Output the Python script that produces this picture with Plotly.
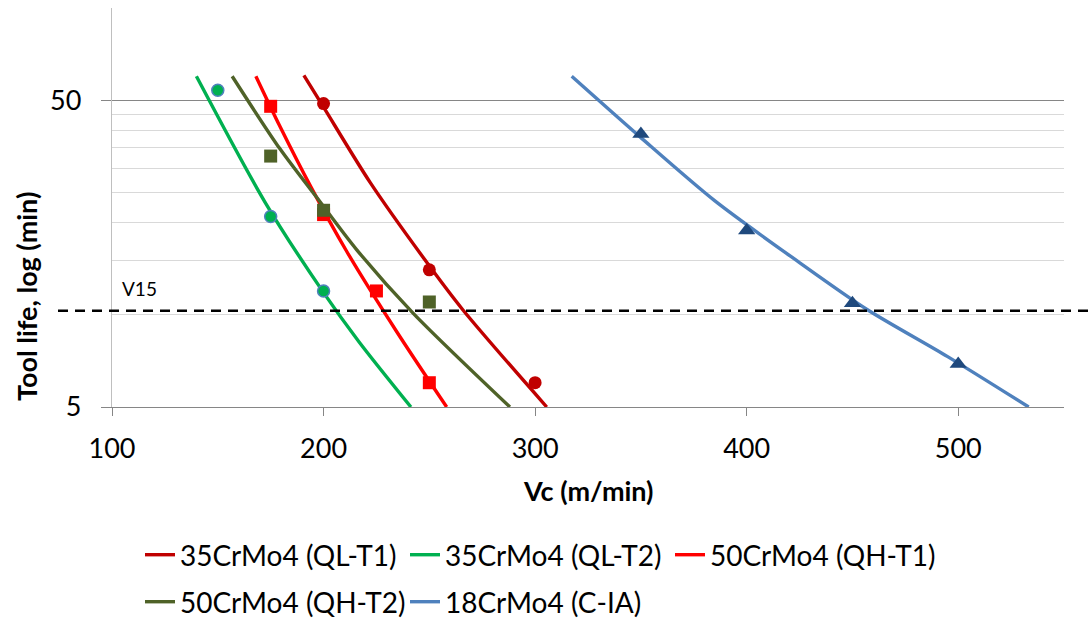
import math
import plotly.graph_objects as go

# ---------------- data ----------------
series_names = ["35CrMo4 (QL-T1)", "35CrMo4 (QL-T2)", "50CrMo4 (QH-T1)",
                "50CrMo4 (QH-T2)", "18CrMo4 (C-IA)"]

# measured points (Vc in m/min, tool life in min)
ql_t1_vc = [200, 250, 300]
ql_t1_life = [48.8, 14.0, 6.0]
ql_t2_vc = [150, 175, 200]
ql_t2_life = [53.9, 20.9, 11.95]
qh_t1_vc = [175, 200, 225, 250]
qh_t1_life = [47.8, 21.2, 11.95, 6.0]
qh_t2_vc = [175, 200, 250]
qh_t2_life = [32.9, 21.9, 11.0]
cia_vc = [350, 400, 450, 500]
cia_life = [38.8, 18.8, 10.9, 6.9]

# trend curves
ql_t1_fit_vc = [190.7, 200, 222, 247.9, 265.7, 305.5]
ql_t1_fit_life = [60.3, 47.5, 27.0, 15.1, 10.4, 5.0]
ql_t2_fit_vc = [139.9, 172.3, 200, 216.8, 241.3]
ql_t2_fit_life = [59.9, 23.3, 11.8, 8.15, 5.0]
qh_t1_fit_vc = [168.0, 179.3, 194, 210.9, 234.6, 258.2]
qh_t1_fit_life = [59.9, 41.2, 26.1, 16.1, 8.8, 5.0]
qh_t2_fit_vc = [156.8, 179.3, 197, 215.6, 242.4, 288.1]
qh_t2_fit_life = [59.9, 34.8, 24.0, 16.3, 10.1, 5.0]
cia_fit_vc = [317.3, 349.6, 385, 423.7, 456.9, 495, 533.3]
cia_fit_life = [59.9, 38.0, 23.5, 15.0, 10.4, 7.3, 5.0]

v15_life = 10.3
v15_label = "V15"

x_ticks = [100, 200, 300, 400, 500]
y_ticks = [5, 50]
y_minor = [10, 15, 20, 25, 30, 35, 40, 45, 100]

x_title = "Vc (m/min)"
y_title = "Tool life, log (min)"

# ---------------- style ----------------
FONT = "Lato"
line_colors = ["#C00000", "#00B050", "#FF0000", "#4F6228", "#4F81BD"]

fits = [(ql_t1_fit_vc, ql_t1_fit_life), (ql_t2_fit_vc, ql_t2_fit_life),
        (qh_t1_fit_vc, qh_t1_fit_life), (qh_t2_fit_vc, qh_t2_fit_life),
        (cia_fit_vc, cia_fit_life)]
points = [(ql_t1_vc, ql_t1_life), (ql_t2_vc, ql_t2_life), (qh_t1_vc, qh_t1_life),
          (qh_t2_vc, qh_t2_life), (cia_vc, cia_life)]
marker_styles = [
    dict(symbol="circle", size=13, color="#C00000"),
    dict(symbol="circle", size=12, color="#00B050", line=dict(color="#4F81BD", width=1.5)),
    dict(symbol="square", size=13, color="#FF0000"),
    dict(symbol="square", size=13, color="#4F6228"),
    dict(symbol="triangle-up", size=15, color="#1F497D"),
]
legend_ids = ["legend", "legend2", "legend3", "legend4", "legend5"]

fig = go.Figure()
for i, (vx, vy) in enumerate(fits):
    fig.add_trace(go.Scatter(
        x=vx, y=vy, mode="lines", name=series_names[i],
        line=dict(color=line_colors[i], width=3.4, shape="spline", smoothing=0.8),
        legend=legend_ids[i], hoverinfo="skip"))
for i, (vx, vy) in enumerate(points):
    ms = dict(marker_styles[i])
    fig.add_trace(go.Scatter(
        x=vx, y=vy, mode="markers", marker=ms, showlegend=False))

L, R, T, B = 112, 25, 8, 211
W, H = 1089, 618
pw = W - L - R
ph = H - T - B


def px2x(px):
    return (px - L) / pw


def py2y(py):
    return (H - B - py) / ph


legend_pos = [(140, 555), (405, 555), (670, 555), (140, 602), (405, 602)]
legend_layout = {}
for lid, (lx, ly) in zip(legend_ids, legend_pos):
    legend_layout[lid] = dict(
        x=px2x(lx), y=py2y(ly), xanchor="left", yanchor="middle",
        orientation="h", font=dict(family=FONT, size=28, color="#000000"),
        bgcolor="rgba(0,0,0,0)", itemwidth=30)

fig.add_shape(type="line", xref="paper", yref="y",
              x0=px2x(58), x1=px2x(1095), y0=v15_life, y1=v15_life,
              line=dict(color="#000000", width=2.5, dash="10px,7px"))

fig.add_annotation(text=v15_label, xref="paper", yref="y", x=px2x(120), y=math.log10(v15_life),
                   xanchor="left", yanchor="bottom", yshift=9, showarrow=False,
                   font=dict(family=FONT, size=19, color="#000000"))
fig.add_annotation(text="<b>" + x_title + "</b>", xref="paper", yref="paper",
                   x=px2x(588), y=py2y(490), xanchor="center", yanchor="middle",
                   showarrow=False, font=dict(family=FONT, size=27, color="#000000"))
fig.add_annotation(text="<b>" + y_title + "</b>", xref="paper", yref="paper",
                   x=px2x(26), y=py2y(297), xanchor="center", yanchor="middle",
                   textangle=-90, showarrow=False,
                   font=dict(family=FONT, size=27, color="#000000"))

fig.update_layout(
    width=W, height=H,
    margin=dict(l=L, r=R, t=T, b=B, pad=0, autoexpand=False),
    paper_bgcolor="white", plot_bgcolor="white",
    font=dict(family=FONT, color="#000000"),
    showlegend=True,
    xaxis=dict(range=[100, 550], tickmode="array", tickvals=x_ticks,
               showgrid=False, zeroline=False, showline=True, linecolor="#868686",
               linewidth=1.3, ticks="outside", ticklen=8, tickcolor="#868686",
               tickfont=dict(family=FONT, size=27, color="#000000"),
               ticklabelstandoff=9),
    yaxis=dict(type="log", range=[math.log10(5), 2], tickmode="array", tickvals=y_ticks,
               showgrid=True, gridcolor="#868686", gridwidth=1.3, zeroline=False,
               showline=True, linecolor="#BFBFBF", linewidth=1.3,
               ticks="outside", ticklen=10, tickcolor="#868686",
               tickfont=dict(family=FONT, size=27, color="#000000"),
               ticklabelstandoff=14,
               minor=dict(tickmode="array", tickvals=y_minor, showgrid=True,
                          gridcolor="#D9D9D9", gridwidth=1.3, ticks="")),
    **legend_layout,
)

fig.write_html("out.html")
